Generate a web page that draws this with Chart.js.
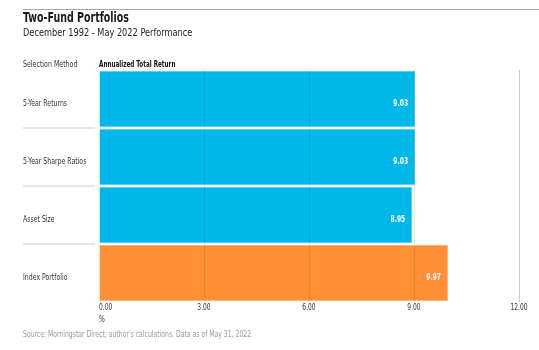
<!DOCTYPE html>
<html>
<head>
<meta charset="utf-8">
<script src="https://cdn.jsdelivr.net/npm/chart.js@4/dist/chart.umd.min.js"></script>
<style>
  html, body { margin: 0; padding: 0; background: #fff; }
  canvas { display: block; }
</style>
</head>
<body>
<canvas id="chart" width="539" height="350"></canvas>
<script>
const FONT = "'DejaVu Sans Condensed', 'DejaVu Sans', sans-serif";

const categories = ["5-Year Returns", "5-Year Sharpe Ratios", "Asset Size", "Index Portfolio"];
const returns = [9.03, 9.03, 8.95, 9.97];
const barColors = ["#00b7ea", "#00b7ea", "#00b7ea", "#ff8f35"];
const barEdges = ["#4ccbf0", "#4ccbf0", "#4ccbf0", "#ffac6c"];
const xTicks = [0, 3, 6, 9, 12];

const titleText = "Two-Fund Portfolios";
const subtitleText = "December 1992 - May 2022 Performance";
const catHeader = "Selection Method";
const valueHeader = "Annualized Total Return";
const unitText = "%";
const sourceText = "Source: Morningstar Direct, author's calculations. Data as of May 31, 2022.";

// narrow text: the original uses a condensed face, squeeze horizontally
function narrowText(ctx, text, x, y, font, color, align, sx) {
  ctx.save();
  ctx.translate(x, y);
  ctx.scale(sx, 1);
  ctx.font = font;
  ctx.fillStyle = color;
  ctx.textAlign = align;
  ctx.textBaseline = "middle";
  ctx.fillText(text, 0, 0);
  ctx.restore();
}

const decorations = {
  id: "decorations",
  afterDraw(chart) {
    const { ctx, chartArea, scales } = chart;
    const left = 23;
    ctx.save();

    // top rule
    ctx.strokeStyle = "#a8a8a8";
    ctx.lineWidth = 1;
    ctx.beginPath();
    ctx.moveTo(left, 9.5);
    ctx.lineTo(539, 9.5);
    ctx.stroke();

    narrowText(ctx, titleText, left, 18, "bold 13.5px " + FONT, "#1a1a1a", "left", 0.78);
    narrowText(ctx, subtitleText, left, 33, "11px " + FONT, "#222", "left", 0.83);
    narrowText(ctx, catHeader, left, 64.5, "8.5px " + FONT, "#333", "left", 0.82);
    narrowText(ctx, valueHeader, chartArea.left, 64.5, "bold 8.5px " + FONT, "#111", "left", 0.74);

    // category labels and separators
    const y = scales.y;
    categories.forEach((c, i) => {
      narrowText(ctx, c, left, y.getPixelForValue(i) + 5, "8.5px " + FONT, "#333", "left", 0.81);
    });
    ctx.strokeStyle = "#dcdcdc";
    ctx.lineWidth = 1.5;
    for (let i = 0; i < categories.length - 1; i++) {
      const yy = (y.getPixelForValue(i) + y.getPixelForValue(i + 1)) / 2;
      ctx.beginPath();
      ctx.moveTo(left, yy);
      ctx.lineTo(chartArea.left - 4, yy);
      ctx.stroke();
    }

    // value labels inside bars
    chart.getDatasetMeta(0).data.forEach((bar, i) => {
      narrowText(ctx, returns[i].toFixed(2), bar.x - 7, bar.y + 5, "bold 8.5px " + FONT, "#fff", "right", 0.78);
    });

    // x tick labels
    const x = scales.x;
    xTicks.forEach(v => {
      const px = x.getPixelForValue(v);
      narrowText(ctx, v.toFixed(2), px, chartArea.bottom + 6, "8.5px " + FONT, "#333", v === 0 ? "left" : "center", 0.78);
    });

    narrowText(ctx, unitText, chartArea.left, 320, "8.5px " + FONT, "#333", "left", 0.8);
    narrowText(ctx, sourceText, left, 334.5, "8px " + FONT, "#9a9a9a", "left", 0.85);
    ctx.restore();
  }
};

new Chart(document.getElementById("chart"), {
  type: "bar",
  data: {
    labels: categories,
    datasets: [{
      data: returns,
      backgroundColor: barColors,
      borderColor: barEdges,
      borderWidth: 1,
      categoryPercentage: 1,
      barPercentage: 0.97
    }]
  },
  options: {
    indexAxis: "y",
    responsive: false,
    animation: false,
    layout: { padding: { left: 23, right: 20, top: 70, bottom: 0 } },
    plugins: { legend: { display: false }, tooltip: { enabled: false } },
    scales: {
      x: {
        min: 0,
        max: 12,
        afterFit(scale) { scale.height = 48; },
        afterBuildTicks(scale) { scale.ticks = xTicks.map(v => ({ value: v })); },
        border: { display: false },
        grid: {
          z: 1,
          drawTicks: false,
          lineWidth: 1,
          color: ctx => {
            const v = ctx.tick ? ctx.tick.value : null;
            if (v === 0) return "rgba(0,0,0,0)";
            if (v === 12) return "#c8c8c8";
            return "rgba(0,30,60,0.1)";
          }
        },
        ticks: { display: false }
      },
      y: {
        afterFit(scale) { scale.width = 76; },
        border: { display: false },
        grid: { display: false },
        ticks: { display: false }
      }
    }
  },
  plugins: [decorations]
});
</script>
</body>
</html>
